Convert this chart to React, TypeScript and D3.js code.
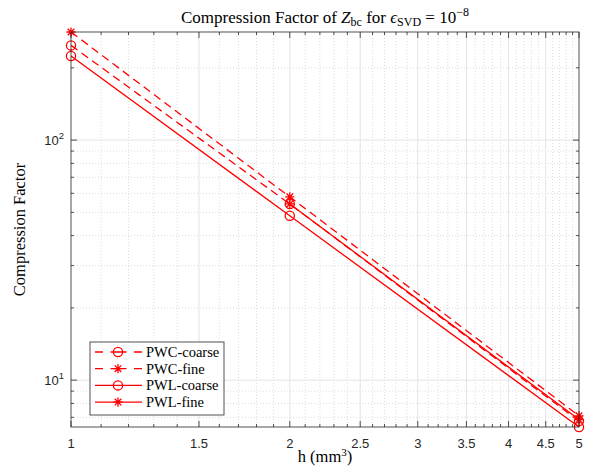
import React from "react";
import * as d3 from "d3";

const xVals = [1, 2, 5];
const pwcCoarse = [248, 54.2, 6.75];
const pwcFine = [282, 58, 7.1];
const pwlCoarse = [224, 48.4, 6.38];
const pwlFine = [NaN, 54.2, 6.85];

const seriesNames = ["PWC-coarse", "PWC-fine", "PWL-coarse", "PWL-fine"];
const xTicks = [1, 1.5, 2, 2.5, 3, 3.5, 4, 4.5, 5];
const xTickLabels = ["1", "1.5", "2", "2.5", "3", "3.5", "4", "4.5", "5"];
const yTicks = [10, 100];
const yTickExps = ["1", "2"];
const yMinorTicks = [7, 8, 9, 20, 30, 40, 50, 60, 70, 80, 90, 200];
const xMinorTicks = d3.range(11, 50).map((v) => v / 10).filter((v) => Math.abs(v * 2 - Math.round(v * 2)) > 1e-6);

const W = 599, H = 474;
const L = 71, R = 579, T = 32, B = 427;
const RED = "#ff0000";
const AX = "#262626";
const SERIF = "'Liberation Serif', 'Times New Roman', serif";
const SANS = "'Liberation Sans', Arial, sans-serif";

function Marker({ kind, x, y }: { kind: string; x: number; y: number }) {
  if (kind === "o") return <circle cx={x} cy={y} r={4.6} fill="none" stroke={RED} strokeWidth={1.3} />;
  const r = 4.6, a = r * 0.72;
  const d = `M${x - r},${y}L${x + r},${y}M${x},${y - r}L${x},${y + r}M${x - a},${y - a}L${x + a},${y + a}M${x - a},${y + a}L${x + a},${y - a}`;
  return <path d={d} stroke={RED} strokeWidth={1.3} fill="none" />;
}

export default function App() {
  const all = [...pwcCoarse, ...pwcFine, ...pwlCoarse, ...pwlFine].filter((v) => Number.isFinite(v));
  const x = d3.scaleLog().domain([1, 5]).range([L, R]);
  const y = d3.scaleLog().domain(d3.extent(all) as [number, number]).range([B, T]);
  const line = d3
    .line<number>()
    .defined((d) => Number.isFinite(d))
    .x((_, i) => x(xVals[i]))
    .y((d) => y(d));
  const series = [
    { name: seriesNames[0], data: pwcCoarse, dash: "8,5", m: "o" },
    { name: seriesNames[1], data: pwcFine, dash: "8,5", m: "*" },
    { name: seriesNames[2], data: pwlCoarse, dash: "", m: "o" },
    { name: seriesNames[3], data: pwlFine, dash: "", m: "*" },
  ];
  const majT = 6, minT = 3;
  return (
    <div style={{ position: "absolute", left: 0, top: 0 }}>
      <svg width={W} height={H} style={{ display: "block", background: "#fff" }}>
        <rect x={0} y={0} width={W} height={H} fill="#fff" />
        {xMinorTicks.map((t) => (
          <line key={"xmg" + t} x1={x(t)} x2={x(t)} y1={T} y2={B} stroke="#cfcfcf" strokeWidth={0.7} strokeDasharray="1,2" />
        ))}
        {yMinorTicks.map((t) => (
          <line key={"ymg" + t} x1={L} x2={R} y1={y(t)} y2={y(t)} stroke="#cfcfcf" strokeWidth={0.7} strokeDasharray="1,2" />
        ))}
        {xTicks.slice(1, -1).map((t) => (
          <line key={"xg" + t} x1={x(t)} x2={x(t)} y1={T} y2={B} stroke="#e3e3e3" strokeWidth={1} />
        ))}
        {yTicks.map((t) => (
          <line key={"yg" + t} x1={L} x2={R} y1={y(t)} y2={y(t)} stroke="#e3e3e3" strokeWidth={1} />
        ))}
        {xTicks.map((t) => (
          <g key={"xt" + t} stroke={AX} strokeWidth={0.8}>
            <line x1={x(t)} x2={x(t)} y1={B} y2={B - majT} />
            <line x1={x(t)} x2={x(t)} y1={T} y2={T + majT} />
          </g>
        ))}
        {xMinorTicks.map((t) => (
          <g key={"xmt" + t} stroke={AX} strokeWidth={0.8}>
            <line x1={x(t)} x2={x(t)} y1={B} y2={B - minT} />
            <line x1={x(t)} x2={x(t)} y1={T} y2={T + minT} />
          </g>
        ))}
        {yTicks.map((t) => (
          <g key={"yt" + t} stroke={AX} strokeWidth={0.8}>
            <line x1={L} x2={L + majT} y1={y(t)} y2={y(t)} />
            <line x1={R} x2={R - majT} y1={y(t)} y2={y(t)} />
          </g>
        ))}
        {yMinorTicks.map((t) => (
          <g key={"ymt" + t} stroke={AX} strokeWidth={0.8}>
            <line x1={L} x2={L + minT} y1={y(t)} y2={y(t)} />
            <line x1={R} x2={R - minT} y1={y(t)} y2={y(t)} />
          </g>
        ))}
        {series.map((s) => (
          <path key={s.name} d={line(s.data) || ""} fill="none" stroke={RED} strokeWidth={1.3} strokeDasharray={s.dash || undefined} />
        ))}
        {series.map((s) =>
          s.data.map((v, i) =>
            Number.isFinite(v) ? <Marker key={s.name + i} kind={s.m} x={x(xVals[i])} y={y(v)} /> : null
          )
        )}
        <rect x={L} y={T} width={R - L} height={B - T} fill="none" stroke={AX} strokeWidth={0.8} />
        {xTicks.map((t, i) => (
          <text key={"xl" + t} x={x(t)} y={448} textAnchor="middle" fontFamily={SANS} fontSize={13} fill={AX}>
            {xTickLabels[i]}
          </text>
        ))}
        {yTicks.map((t, i) => (
          <text key={"yl" + t} x={64} y={y(t) + 5} textAnchor="end" fontFamily={SANS} fontSize={13} fill={AX}>
            10<tspan fontSize={9.5} dy={-6}>{yTickExps[i]}</tspan>
          </text>
        ))}
        <text x={(L + R) / 2} y={462} textAnchor="middle" fontFamily={SERIF} fontSize={16.5} fill="#000">
          {"h (mm"}<tspan fontSize={11} dy={-6}>3</tspan><tspan dy={6}>)</tspan>
        </text>
        <text transform={`translate(25,${(T + B) / 2}) rotate(-90)`} textAnchor="middle" fontFamily={SERIF} fontSize={16.5} fill="#000">
          Compression Factor
        </text>
        <text x={(L + R) / 2} y={23} textAnchor="middle" fontFamily={SERIF} fontSize={17} fill="#000">
          {"Compression Factor of "}
          <tspan fontStyle="italic">Z</tspan>
          <tspan fontSize={12} dy={3}>bc</tspan>
          <tspan dy={-3}>{" for "}</tspan>
          <tspan fontStyle="italic">{"\u03F5"}</tspan>
          <tspan fontSize={12} dy={3}>SVD</tspan>
          <tspan dy={-3}>{" = 10"}</tspan>
          <tspan fontSize={12} dy={-7}>{"\u22128"}</tspan>
        </text>
        <g>
          <rect x={90} y={342} width={134} height={73} fill="#fff" stroke={AX} strokeWidth={0.8} />
          {series.map((s, i) => {
            const ly = 352 + i * 16.7;
            return (
              <g key={"lg" + s.name}>
                <line x1={95} x2={142} y1={ly} y2={ly} stroke={RED} strokeWidth={1.3} strokeDasharray={s.dash ? "8,7.5,16,7.5,8" : undefined} />
                <Marker kind={s.m} x={118} y={ly} />
                <text x={146} y={ly + 5} fontFamily={SERIF} fontSize={14.5} fill="#000">{s.name}</text>
              </g>
            );
          })}
        </g>
      </svg>
    </div>
  );
}
